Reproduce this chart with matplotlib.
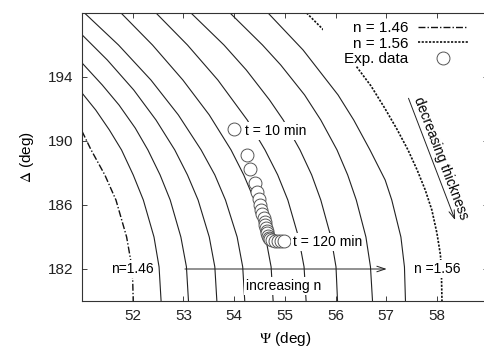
import matplotlib
matplotlib.use('Agg')
import matplotlib.pyplot as plt
from matplotlib.patches import Rectangle

plt.rcParams['font.family'] = ['Liberation Sans', 'DejaVu Sans']
plt.rcParams['mathtext.fontset'] = 'stix'

# ---------------- data ----------------
# constant-n curves (thickness varies along each curve): Psi (deg), Delta (deg)
psi_146 = [51.00, 51.18, 51.45, 51.67, 51.88, 51.96, 52.00, 52.01]
del_146 = [190.61, 189.44, 187.88, 186.31, 184.0, 182.56, 181.31, 180.0]

psi_147 = [51.00, 51.27, 51.54, 51.78, 52.01, 52.21, 52.42, 52.52, 52.56]
del_147 = [193.0, 191.94, 190.69, 189.44, 187.88, 186.31, 184.0, 182.13, 180.0]

psi_148 = [51.00, 51.40, 51.73, 52.05, 52.30, 52.54, 52.74, 52.95, 53.06, 53.10]
del_148 = [194.88, 193.5, 192.25, 190.81, 189.44, 187.88, 186.31, 184.0, 182.13, 180.0]

psi_149 = [51.00, 51.50, 52.02, 52.46, 52.83, 53.08, 53.29, 53.51, 53.62, 53.66]
del_149 = [196.64, 195.06, 193.19, 191.31, 189.44, 187.88, 186.31, 184.0, 182.13, 180.0]

psi_150 = [51.05, 51.72, 52.36, 52.90, 53.35, 53.62, 53.83, 54.06, 54.17, 54.21]
del_150 = [198.0, 196.0, 193.81, 191.63, 189.44, 187.88, 186.31, 184.0, 182.13, 180.0]

psi_151 = [51.77, 52.39, 52.99, 53.51, 53.94, 54.19, 54.40, 54.62, 54.73, 54.77]
del_151 = [198.0, 196.0, 193.81, 191.63, 189.44, 187.88, 186.31, 184.0, 182.13, 180.0]

psi_152 = [52.46, 53.08, 53.68, 54.26, 54.61, 54.86, 55.06, 55.27, 55.38, 55.42]
del_152 = [198.0, 196.0, 193.81, 191.31, 189.44, 187.88, 186.31, 184.0, 182.13, 180.0]

psi_153 = [53.15, 53.80, 54.24, 54.70, 54.97, 55.30, 55.53, 55.71, 55.91, 56.01, 56.04]
del_153 = [198.0, 196.0, 194.44, 192.56, 191.31, 189.44, 187.88, 186.31, 184.0, 182.13, 180.0]

psi_154 = [53.92, 54.56, 54.92, 55.39, 55.71, 56.03, 56.24, 56.41, 56.60, 56.69, 56.73]
del_154 = [198.0, 196.0, 194.75, 192.88, 191.31, 189.44, 187.88, 186.31, 184.0, 182.13, 180.0]

psi_155 = [54.67, 55.36, 56.05, 56.36, 56.68, 56.98, 57.11, 57.29, 57.36, 57.38]
del_155 = [198.0, 195.69, 192.88, 191.31, 189.44, 187.56, 186.31, 184.0, 182.13, 180.0]

psi_156 = [55.43, 55.79, 56.10, 56.41, 56.70, 56.97, 57.21, 57.43, 57.61, 57.77,
           57.90, 58.00, 58.07, 58.09, 58.10]
del_156 = [198.0, 196.86, 195.81, 194.67, 193.44, 192.06, 190.75, 189.44, 188.19, 186.94,
           185.69, 184.25, 182.88, 181.63, 180.0]

# experimental data (t = 10 min ... t = 120 min)
psi_exp = [54.00, 54.25, 54.32, 54.41, 54.46, 54.49, 54.52, 54.54, 54.56, 54.58,
           54.60, 54.61, 54.62, 54.64, 54.65, 54.66, 54.68, 54.71, 54.75, 54.80,
           54.86, 54.92, 54.98]
del_exp = [190.73, 189.13, 188.28, 187.36, 186.81, 186.38, 186.0, 185.69, 185.41, 185.16,
           184.94, 184.75, 184.56, 184.38, 184.22, 184.06, 183.94, 183.86, 183.81, 183.78,
           183.77, 183.76, 183.75]

x_ticks = [52, 53, 54, 55, 56, 57, 58]
y_ticks = [182, 186, 190, 194]

# ---------------- figure ----------------
W, H = 485, 350
fig = plt.figure(figsize=(W / 100, H / 100), dpi=100)
ax = fig.add_axes([82 / W, (H - 301) / H, (487.6 - 82) / W, (301 - 13) / H])
ax.set_axisbelow(False)

solid_kw = dict(color='#222222', lw=0.8, zorder=2, solid_joinstyle='round')
for px, dy in [(psi_147, del_147), (psi_148, del_148), (psi_149, del_149),
               (psi_150, del_150), (psi_151, del_151), (psi_152, del_152),
               (psi_153, del_153), (psi_154, del_154), (psi_155, del_155)]:
    ax.plot(px, dy, **solid_kw)

l146, = ax.plot(psi_146, del_146, color='#111111', lw=1.0,
                linestyle=(0, (5, 1.5, 1, 1.5)), zorder=2)
l156, = ax.plot(psi_156, del_156, color='#111111', lw=1.2,
                linestyle=(0, (1.3, 0.9)), zorder=2)
lexp, = ax.plot(psi_exp, del_exp, 'o', ms=9.3, mfc='white', mec='#555555',
                mew=0.7, linestyle='none', zorder=4)

ax.set_xlim(51, 59)
ax.set_ylim(180, 198)
ax.set_xticks(x_ticks)
ax.set_yticks(y_ticks)
ax.tick_params(direction='in', top=True, right=True, length=3.3, width=0.6,
               labelsize=11, pad=6, colors='#222222')
for s in ax.spines.values():
    s.set_linewidth(0.8)
    s.set_color('#333333')

ax.set_xlabel(r'$\Psi$ (deg)', fontsize=11, labelpad=5)
ax.set_ylabel(r'$\Delta$ (deg)', fontsize=11, labelpad=9)

# legend background (opaque key area)
ax.add_patch(Rectangle((0.594, 0.816), 0.406, 0.184, transform=ax.transAxes,
                       facecolor='white', edgecolor='none', zorder=2.2))
leg = ax.legend([l146, l156, lexp], ['n = 1.46', 'n = 1.56', 'Exp. data'],
                loc='upper right', bbox_to_anchor=(0.952, 0.972), frameon=False,
                markerfirst=False, handlelength=3.3, handletextpad=0.6,
                labelspacing=0.1, fontsize=11, borderaxespad=0, borderpad=0)
leg.set_zorder(5)

box = dict(boxstyle='square,pad=0.15', fc='white', ec='none')
ax.text(54.21, 190.63, 't = 10 min', fontsize=10, ha='left', va='center', bbox=box, zorder=5)
ax.text(55.16, 183.71, 't = 120 min', fontsize=10, ha='left', va='center', bbox=box, zorder=5)
ax.text(51.99, 182.0, 'n=1.46', fontsize=10, ha='center', va='center', bbox=box, zorder=5)
ax.text(58.00, 182.0, 'n =1.56', fontsize=10, ha='center', va='center', bbox=box, zorder=5)
ax.text(54.98, 180.94, 'increasing n', fontsize=10, ha='center', va='center', bbox=box, zorder=5)
ax.text(58.08, 188.94, 'decreasing thickness', fontsize=10, ha='center', va='center',
        rotation=-69, rotation_mode='anchor', zorder=5)

arrow_kw = dict(arrowstyle='->,head_length=0.6,head_width=0.2', lw=0.7,
                color='#222222', shrinkA=0, shrinkB=0)
ax.annotate('', xy=(57.01, 182.0), xytext=(53.03, 182.0), arrowprops=arrow_kw, zorder=3)
ax.annotate('', xy=(58.36, 185.06), xytext=(57.44, 192.67), arrowprops=arrow_kw, zorder=3)

fig.savefig('out.png', dpi=100)
